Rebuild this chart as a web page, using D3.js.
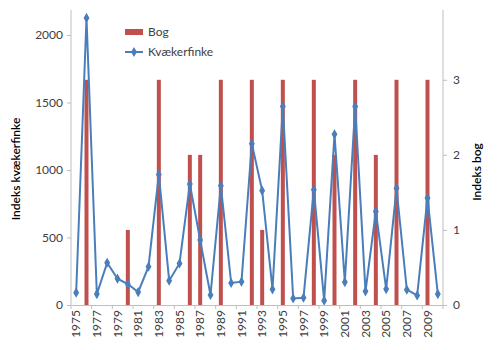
<!DOCTYPE html>
<html>
<head>
<meta charset="utf-8">
<script src="https://cdn.jsdelivr.net/npm/d3@7"></script>
<style>
  body { margin: 0; background: #fff; }
  text { font-family: Lato, "Open Sans", sans-serif; }
</style>
</head>
<body>
<div id="chart"></div>
<script>
// Data

var years = d3.range(1975, 2011);
var finke = [91, 2126, 81, 313, 195, 155, 96, 284, 967, 180, 308, 896, 481, 74, 884, 163, 173,
             1195, 847, 116, 1471, 49, 54, 854, 32, 1264, 170, 1471, 101, 693, 118, 864, 113, 71, 793, 81];
var bog = [0, 3, 0, 0, 0, 1, 0, 0, 3, 0, 0, 2, 2, 0, 3, 0, 0,
           3, 1, 0, 3, 0, 0, 3, 0, 2, 0, 3, 0, 2, 0, 3, 0, 0, 3, 0];
var leftTicks = [0, 500, 1000, 1500, 2000];
var rightTicks = [0, 1, 2, 3];

// Size

var w = 500;
var h = 350;
var margin = {top: 10, left: 71, bottom: 45, right: 57};

var svg = d3.select("#chart")
  .append("svg")
    .attr("width", w)
    .attr("height", h);

// Scales

var xScale = d3.scaleBand()
  .domain(years)
  .range([margin.left, w - margin.right]);

var yLeft = d3.scaleLinear()
  .domain([0, 2185])
  .range([h - margin.bottom, margin.top]);

var yRight = d3.scaleLinear()
  .domain([0, 3.93])
  .range([h - margin.bottom, margin.top]);

var xpos = function(d) {
  return xScale(d) + xScale.bandwidth() / 2;
};

// Bars

svg.selectAll("rect.bog")
  .data(years.map((y, i) => ({year: y, v: bog[i]})).filter(d => d.v > 0))
  .enter()
  .append("rect")
    .attr("class", "bog")
    .attr("x", d => xpos(d.year) - 2)
    .attr("width", 4)
    .attr("y", d => yRight(d.v))
    .attr("height", d => yRight(0) - yRight(d.v))
    .attr("fill", "#c0504d");

// Line

var pts = years.map((y, i) => ({year: y, v: finke[i]}));

svg.append("path")
  .datum(pts)
  .attr("fill", "none")
  .attr("stroke", "#4a7ebb")
  .attr("stroke-width", 2)
  .attr("d", d3.line().x(d => xpos(d.year)).y(d => yLeft(d.v)));

var diamond = d3.symbol().type(d3.symbolDiamond).size(30);

svg.selectAll("path.mark")
  .data(pts)
  .enter()
  .append("path")
    .attr("class", "mark")
    .attr("d", diamond)
    .attr("transform", d => `translate(${xpos(d.year)},${yLeft(d.v)})`)
    .attr("fill", "#4a7ebb");

// Axes

var axisColor = "#bfbfbf";
var labelColor = "#404040";

var leftAxis = svg.append("g")
  .attr("transform", `translate(${margin.left},0)`)
  .call(d3.axisLeft(yLeft).tickValues(leftTicks).tickFormat(d3.format("d"))
    .tickSize(4).tickPadding(4));

var rightAxis = svg.append("g")
  .attr("transform", `translate(${w - margin.right},0)`)
  .call(d3.axisRight(yRight).tickValues(rightTicks).tickFormat(d3.format("d"))
    .tickSize(4).tickPadding(6));

var bottomAxis = svg.append("g")
  .attr("transform", `translate(0,${h - margin.bottom})`)
  .call(d3.axisBottom(xScale)
    .tickValues(years.filter(y => y % 2 == 1))
    .tickSize(0)
    .tickPadding(0));

[leftAxis, rightAxis, bottomAxis].forEach(function(a) {
  a.select(".domain").attr("stroke", axisColor);
  a.selectAll(".tick line").attr("stroke", axisColor);
  a.selectAll("text")
    .attr("fill", labelColor)
    .style("font-size", "12px");
});

leftAxis.select(".domain").attr("d", `M0,${margin.top}V${h - margin.bottom}`);
rightAxis.select(".domain").attr("d", `M0,${margin.top}V${h - margin.bottom}`);

bottomAxis.selectAll("text")
  .attr("transform", "rotate(-90)")
  .attr("text-anchor", "end")
  .attr("x", -5)
  .attr("y", 0)
  .attr("dy", "0.35em");

// tick marks between categories on x axis
var step = xScale.step();
bottomAxis.selectAll("line.sep")
  .data(d3.range(0, years.length + 1, 2))
  .enter()
  .append("line")
    .attr("class", "sep")
    .attr("x1", d => margin.left + d * step)
    .attr("x2", d => margin.left + d * step)
    .attr("y1", 0)
    .attr("y2", 4)
    .attr("stroke", axisColor);

// Axis titles

svg.append("text")
  .attr("transform", `translate(20,169) rotate(-90)`)
  .attr("text-anchor", "middle")
  .style("font-size", "12px")
  .style("font-weight", "600")
  .attr("fill", "#000")
  .text("Indeks kvækerfinke");

svg.append("text")
  .attr("transform", `translate(481,172) rotate(-90)`)
  .attr("text-anchor", "middle")
  .style("font-size", "12px")
  .style("font-weight", "600")
  .attr("fill", "#000")
  .text("Indeks bog");

// Legend

var legend = svg.append("g");

legend.append("rect")
  .attr("x", 125).attr("y", 29)
  .attr("width", 18).attr("height", 6)
  .attr("fill", "#c0504d");

legend.append("text")
  .attr("x", 148).attr("y", 36)
  .style("font-size", "12px")
  .attr("fill", labelColor)
  .text("Bog");

legend.append("line")
  .attr("x1", 125).attr("x2", 143)
  .attr("y1", 52).attr("y2", 52)
  .attr("stroke", "#4a7ebb")
  .attr("stroke-width", 2);

legend.append("path")
  .attr("d", diamond)
  .attr("transform", "translate(134,52)")
  .attr("fill", "#4a7ebb");

legend.append("text")
  .attr("x", 148).attr("y", 56)
  .style("font-size", "12px")
  .attr("fill", labelColor)
  .text("Kvækerfinke");
</script>
</body>
</html>
